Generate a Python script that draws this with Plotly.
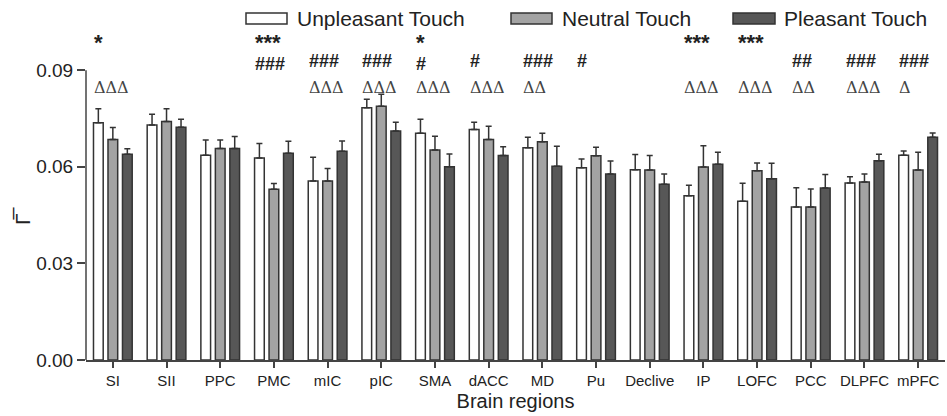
import plotly.graph_objects as go

regions = ["SI", "SII", "PPC", "PMC", "mIC", "pIC", "SMA", "dACC", "MD", "Pu",
           "Declive", "IP", "LOFC", "PCC", "DLPFC", "mPFC"]
unpleasant = [0.0737, 0.0730, 0.0636, 0.0627, 0.0556, 0.0783, 0.0704, 0.0716,
              0.0659, 0.0597, 0.0591, 0.0510, 0.0493, 0.0475, 0.0550, 0.0636]
unpleasant_err = [0.0043, 0.0033, 0.0047, 0.0045, 0.0074, 0.0027, 0.0044, 0.0022,
                  0.0033, 0.0027, 0.0047, 0.0033, 0.0056, 0.0060, 0.0019, 0.0013]
neutral = [0.0685, 0.0741, 0.0657, 0.0530, 0.0556, 0.0788, 0.0652, 0.0685,
           0.0678, 0.0634, 0.0590, 0.0599, 0.0588, 0.0475, 0.0553, 0.0590]
neutral_err = [0.0037, 0.0039, 0.0026, 0.0018, 0.0039, 0.0037, 0.0043, 0.0041,
               0.0026, 0.0027, 0.0045, 0.0066, 0.0024, 0.0056, 0.0025, 0.0055]
pleasant = [0.0639, 0.0723, 0.0657, 0.0642, 0.0648, 0.0711, 0.0600, 0.0635,
            0.0602, 0.0578, 0.0546, 0.0608, 0.0563, 0.0534, 0.0619, 0.0692]
pleasant_err = [0.0017, 0.0025, 0.0037, 0.0037, 0.0032, 0.0027, 0.0040, 0.0027,
                0.0062, 0.0040, 0.0032, 0.0037, 0.0048, 0.0042, 0.0020, 0.0013]

stars = ["*", "", "", "***", "", "", "*", "", "", "", "", "***", "***", "", "", ""]
hashes = ["", "", "", "###", "###", "###", "#", "#", "###", "#", "", "", "", "##", "###", "###"]
deltas = ["ΔΔΔ", "", "", "", "ΔΔΔ", "ΔΔΔ", "ΔΔΔ", "ΔΔΔ", "ΔΔ", "", "", "ΔΔΔ", "ΔΔΔ", "ΔΔ", "ΔΔΔ", "Δ"]

series_names = ["Unpleasant Touch", "Neutral Touch", "Pleasant Touch"]
colors = ["#ffffff", "#a3a3a3", "#575757"]
outline = "#333333"
FONT = "Liberation Sans"

W, H = 947, 416
ML, MR, MT, MB = 86, 2, 38, 56
PW, PH = W - ML - MR, H - MT - MB


def px_x(px):
    return (px - ML) / PW


def px_y(py):
    return (H - MB - py) / PH


fig = go.Figure()
for name, vals, errs, col in zip(series_names, [unpleasant, neutral, pleasant],
                                 [unpleasant_err, neutral_err, pleasant_err], colors):
    fig.add_trace(go.Bar(
        x=list(range(len(regions))), y=vals, name=name,
        marker=dict(color=col, line=dict(color=outline, width=1.5)),
        error_y=dict(type="data", symmetric=False, array=errs,
                     arrayminus=[0] * len(errs), color=outline,
                     thickness=1.5, width=3),
        showlegend=False,
    ))

annotations = []
NB = "\u00a0"
for i in range(len(regions)):
    if stars[i] or hashes[i]:
        top = ("<span style='font-size:22px'><b>" + stars[i] + "</b></span>") if stars[i] else NB
        bottom = ("<span style='font-size:18px;font-weight:bold'><b>" + hashes[i] + "</b></span>") if hashes[i] else NB
        annotations.append(dict(x=i - 0.39, y=px_y(52), xref="x", yref="paper",
                                text=top + "<br>" + bottom,
                                showarrow=False, xanchor="left", yanchor="middle", align="left",
                                font=dict(family=FONT, size=15, color="#222")))
    if deltas[i]:
        annotations.append(dict(x=i - 0.39, y=px_y(87), xref="x", yref="paper", text=deltas[i],
                                showarrow=False, xanchor="left", yanchor="middle",
                                font=dict(family="DejaVu Serif", size=16, color="#444")))

# y-axis title
annotations.append(dict(x=px_x(22), y=px_y(216), xref="paper", yref="paper",
                        text="Γ\u0305", textangle=-90, showarrow=False,
                        xanchor="center", yanchor="middle",
                        font=dict(family=FONT, size=21, color="#222")))

# custom legend
shapes = []
legend_items = [(246, 287, 295), (511, 552, 560), (733, 775, 782)]
for (x0, x1, tx), name, col in zip(legend_items, series_names, colors):
    shapes.append(dict(type="rect", xref="paper", yref="paper",
                       x0=px_x(x0), x1=px_x(x1), y0=px_y(24), y1=px_y(13),
                       fillcolor=col, line=dict(color=outline, width=1.5)))
    annotations.append(dict(x=px_x(tx), y=px_y(18), xref="paper", yref="paper",
                            text=name, showarrow=False, xanchor="left", yanchor="middle",
                            font=dict(family=FONT, size=21, color="#222")))

# y-axis line only up to 0.09
shapes.append(dict(type="line", xref="paper", yref="y", x0=0, x1=0, y0=0, y1=0.09,
                   line=dict(color="#444", width=1.5)))

fig.update_layout(
    width=W, height=H,
    margin=dict(l=ML, r=MR, t=MT, b=MB),
    paper_bgcolor="white", plot_bgcolor="white",
    barmode="group", bargap=0.19, bargroupgap=0.33,
    font=dict(family=FONT, color="#222"),
    annotations=annotations, shapes=shapes,
    xaxis=dict(
        range=[-0.5, len(regions) - 0.5],
        tickmode="array", tickvals=list(range(len(regions))), ticktext=regions,
        showline=True, linecolor="#444", linewidth=1.5,
        ticks="outside", ticklen=6, tickwidth=1.5, tickcolor="#444",
        tickfont=dict(family=FONT, size=15, color="#222"),
        showgrid=False, zeroline=False,
        title=dict(text="Brain regions", font=dict(family=FONT, size=20, color="#222"), standoff=6),
    ),
    yaxis=dict(
        range=[0, 0.1],
        tickmode="array", tickvals=[0, 0.03, 0.06, 0.09],
        ticktext=["0.00", "0.03", "0.06", "0.09"],
        showline=False, ticks="outside", ticklen=8, tickwidth=1.5, tickcolor="#444",
        tickfont=dict(family=FONT, size=19, color="#222"),
        showgrid=False, zeroline=False,
    ),
)

fig.write_html("out.html", config={"displayModeBar": False},
               post_script="document.body.style.margin='0';document.body.style.overflow='hidden';")
